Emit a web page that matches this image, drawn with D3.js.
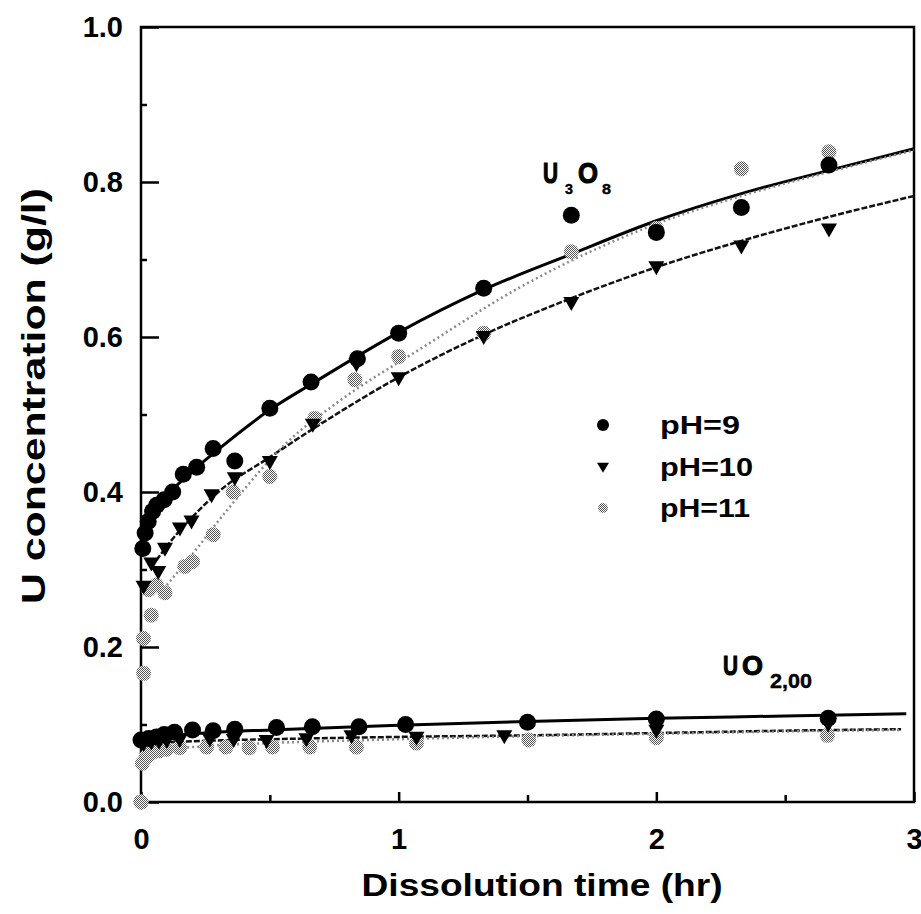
<!DOCTYPE html>
<html>
<head>
<meta charset="utf-8">
<script src="https://cdn.jsdelivr.net/npm/d3@7"></script>
<style>
  html, body { margin: 0; padding: 0; background: #fff; }
  svg { display: block; }
  text { font-family: "Liberation Sans", Arial, Helvetica, sans-serif; font-weight: bold; fill: #000; }
</style>
</head>
<body>
<div id="chart"></div>
<script>
// ---------------- DATA ----------------
const xTicks = [0, 1, 2, 3];
const xMinorTicks = [0.5, 1.5, 2.5];
const yTicks = [0.0, 0.2, 0.4, 0.6, 0.8, 1.0];
const yMinorTicks = [0.1, 0.3, 0.5, 0.7, 0.9];
const seriesNames = ["pH=9", "pH=10", "pH=11"];

// U3O8 measurements
const u3o8_pH9_t = [0.007, 0.016, 0.028, 0.045, 0.061, 0.09, 0.123, 0.164, 0.216, 0.28, 0.364, 0.5, 0.66, 0.84, 1.0, 1.33, 1.67, 2.0, 2.33, 2.67];
const u3o8_pH9_v = [0.327, 0.347, 0.362, 0.375, 0.383, 0.39, 0.40, 0.423, 0.432, 0.456, 0.44, 0.508, 0.542, 0.572, 0.605, 0.663, 0.757, 0.735, 0.767, 0.822];
const u3o8_pH10_t = [0.01, 0.04, 0.067, 0.093, 0.151, 0.196, 0.274, 0.364, 0.5, 0.667, 0.836, 1.0, 1.33, 1.67, 2.0, 2.33, 2.67];
const u3o8_pH10_v = [0.278, 0.308, 0.297, 0.327, 0.353, 0.362, 0.396, 0.418, 0.439, 0.487, 0.565, 0.547, 0.600, 0.644, 0.690, 0.717, 0.739];
const u3o8_pH11_t = [0, 0.01, 0.01, 0.03, 0.04, 0.06, 0.093, 0.17, 0.2, 0.28, 0.358, 0.5, 0.674, 0.83, 1.0, 1.33, 1.67, 2.0, 2.33, 2.67];
const u3o8_pH11_v = [0.0, 0.166, 0.211, 0.274, 0.241, 0.28, 0.27, 0.304, 0.31, 0.345, 0.40, 0.42, 0.495, 0.545, 0.575, 0.605, 0.71, 0.74, 0.817, 0.839];

// U3O8 fitted curves
const u3o8_fit9_t = [0, 0.02, 0.05, 0.1, 0.2, 0.3, 0.5, 0.67, 1.0, 1.33, 1.67, 2.0, 2.33, 2.67, 3.0];
const u3o8_fit9_v = [0.325, 0.352, 0.374, 0.395, 0.427, 0.455, 0.506, 0.541, 0.606, 0.661, 0.707, 0.75, 0.785, 0.815, 0.843];
const u3o8_fit10_t = [0.06, 0.1, 0.2, 0.3, 0.5, 0.67, 1.0, 1.33, 1.67, 2.0, 2.33, 2.67, 3.0];
const u3o8_fit10_v = [0.312, 0.33, 0.368, 0.4, 0.445, 0.482, 0.548, 0.603, 0.65, 0.69, 0.724, 0.755, 0.782];
const u3o8_fit11_t = [0.1, 0.2, 0.33, 0.58, 0.76, 1.1, 1.47, 1.88, 2.0, 2.33, 2.67, 3.0];
const u3o8_fit11_v = [0.28, 0.32, 0.375, 0.468, 0.515, 0.588, 0.664, 0.73, 0.746, 0.782, 0.813, 0.841];

// UO2.00 measurements
const uo2_pH9_t = [0, 0.03, 0.06, 0.09, 0.13, 0.2, 0.28, 0.364, 0.526, 0.665, 0.846, 1.027, 1.5, 2.0, 2.667];
const uo2_pH9_v = [0.08, 0.082, 0.084, 0.087, 0.09, 0.093, 0.092, 0.094, 0.096, 0.097, 0.097, 0.10, 0.103, 0.107, 0.108];
const uo2_pH10_t = [0.01, 0.04, 0.07, 0.1, 0.15, 0.267, 0.36, 0.487, 0.642, 0.817, 1.069, 1.41, 2.0, 2.667];
const uo2_pH10_v = [0.075, 0.077, 0.078, 0.079, 0.08, 0.081, 0.08, 0.079, 0.081, 0.085, 0.083, 0.085, 0.092, 0.1];
const uo2_pH11_t = [0, 0.005, 0.02, 0.04, 0.07, 0.1, 0.15, 0.255, 0.33, 0.42, 0.51, 0.655, 0.836, 1.069, 1.505, 2.0, 2.664];
const uo2_pH11_v = [0.0, 0.05, 0.058, 0.063, 0.066, 0.068, 0.07, 0.071, 0.071, 0.07, 0.071, 0.071, 0.071, 0.076, 0.08, 0.083, 0.086];

// UO2.00 fitted curves
const uo2_fit9_t = [0, 0.1, 0.25, 0.5, 1.0, 1.5, 2.0, 2.5, 2.97];
const uo2_fit9_v = [0.079, 0.085, 0.089, 0.093, 0.099, 0.104, 0.108, 0.111, 0.114];
const uo2_fit10_t = [0.05, 0.25, 0.5, 1.0, 1.5, 2.0, 2.5, 2.95];
const uo2_fit10_v = [0.076, 0.079, 0.081, 0.084, 0.086, 0.089, 0.092, 0.094];
const uo2_fit11_t = [0, 0.05, 0.1, 0.25, 0.5, 1.0, 1.5, 2.0, 2.5, 2.95];
const uo2_fit11_v = [0.05, 0.062, 0.067, 0.072, 0.076, 0.081, 0.085, 0.088, 0.091, 0.093];

// ---------------- CHART ----------------
const W = 921, H = 914;
const zip = (t, v) => t.map((d, i) => [d, v[i]]);

const svg = d3.select("#chart").append("svg").attr("width", W).attr("height", H);
svg.append("rect").attr("width", W).attr("height", H).attr("fill", "#fff");

const defs = svg.append("defs");
const pat = defs.append("pattern").attr("id", "stip").attr("patternUnits", "userSpaceOnUse")
  .attr("width", 2).attr("height", 2);
pat.append("rect").attr("width", 2).attr("height", 2).attr("fill", "#fff");
[[0, 0], [1, 1]].forEach(p => pat.append("rect").attr("x", p[0]).attr("y", p[1]).attr("width", 1).attr("height", 1).attr("fill", "#555"));

const x = d3.scaleLinear().domain([0, 3]).range([141, 914]);
const y = d3.scaleLinear().domain([0, 1]).range([802, 27]);

// axes
const axL = svg.append("g").attr("transform", `translate(${x(0)},0)`)
  .call(d3.axisLeft(y).tickValues(yTicks).tickSizeInner(-18).tickSizeOuter(0).tickPadding(18).tickFormat(d3.format(".1f")));
const axLm = svg.append("g").attr("transform", `translate(${x(0)},0)`)
  .call(d3.axisLeft(y).tickValues(yMinorTicks).tickSizeInner(-6).tickSizeOuter(0).tickFormat(""));
const axB = svg.append("g").attr("transform", `translate(0,${y(0)})`)
  .call(d3.axisBottom(x).tickValues(xTicks).tickSizeInner(-10).tickSizeOuter(0).tickPadding(26).tickFormat(d3.format("d")));
const axBm = svg.append("g").attr("transform", `translate(0,${y(0)})`)
  .call(d3.axisBottom(x).tickValues(xMinorTicks).tickSizeInner(-7).tickSizeOuter(0).tickFormat(""));
[axL, axLm, axB, axBm].forEach(g => {
  g.select(".domain").remove();
  g.selectAll(".tick line").attr("stroke", "#000").attr("stroke-width", 2.5);
  g.selectAll(".tick text").attr("font-size", 29).attr("font-family", null).attr("fill", "#000");
});

// frame
svg.append("rect").attr("x", x(0)).attr("y", y(1)).attr("width", x(3) - x(0)).attr("height", y(0) - y(1))
  .attr("fill", "none").attr("stroke", "#000").attr("stroke-width", 2.5);

// fitted lines
const line = d3.line().x(d => x(d[0])).y(d => y(d[1])).curve(d3.curveMonotoneX);
const lineStyles = [
  { stroke: "#000", width: 3, dash: null },
  { stroke: "#111", width: 2.5, dash: "6,2" },
  { stroke: "#8a8a8a", width: 2.5, dash: "2,3" }
];
const fits = [
  [zip(u3o8_fit9_t, u3o8_fit9_v), 0], [zip(u3o8_fit10_t, u3o8_fit10_v), 1], [zip(u3o8_fit11_t, u3o8_fit11_v), 2],
  [zip(uo2_fit9_t, uo2_fit9_v), 0], [zip(uo2_fit10_t, uo2_fit10_v), 1], [zip(uo2_fit11_t, uo2_fit11_v), 2]
];
fits.forEach(([pts, s]) => {
  const st = lineStyles[s];
  svg.append("path").datum(pts).attr("d", line).attr("fill", "none")
    .attr("stroke", st.stroke).attr("stroke-width", st.width)
    .attr("stroke-dasharray", st.dash);
});

// markers
const tri = (w, h) => `M${-w / 2},${-h * 0.42}L${w / 2},${-h * 0.42}L0,${h * 0.58}Z`;
function drawGrey(pts, r) {
  svg.append("g").selectAll("circle").data(pts).join("circle")
    .attr("cx", d => x(d[0])).attr("cy", d => y(d[1])).attr("r", r)
    .attr("fill", "url(#stip)");
}
function drawTri(pts, w, h) {
  svg.append("g").selectAll("path").data(pts).join("path")
    .attr("transform", d => `translate(${x(d[0])},${y(d[1])})`).attr("d", tri(w, h)).attr("fill", "#000");
}
function drawDot(pts, r) {
  svg.append("g").selectAll("circle").data(pts).join("circle")
    .attr("cx", d => x(d[0])).attr("cy", d => y(d[1])).attr("r", r).attr("fill", "#000");
}
drawGrey(zip(u3o8_pH11_t, u3o8_pH11_v), 7.5);
drawGrey(zip(uo2_pH11_t, uo2_pH11_v), 7.5);
drawTri(zip(u3o8_pH10_t, u3o8_pH10_v), 16, 14);
drawTri(zip(uo2_pH10_t, uo2_pH10_v), 16, 14);
drawDot(zip(u3o8_pH9_t, u3o8_pH9_v), 8.5);
drawDot(zip(uo2_pH9_t, uo2_pH9_v), 8.5);

// axis titles
svg.append("text").attr("x", 542).attr("y", 896).attr("text-anchor", "middle")
  .attr("font-size", 31).attr("textLength", 361).attr("lengthAdjust", "spacingAndGlyphs")
  .text("Dissolution time (hr)");
svg.append("text").attr("transform", "translate(45,396) rotate(-90)").attr("text-anchor", "middle")
  .attr("font-size", 34).attr("textLength", 416).attr("lengthAdjust", "spacingAndGlyphs")
  .text("U concentration (g/l)");

// curve labels
function label(parts) {
  parts.forEach(p => svg.append("text").attr("x", p[1]).attr("y", p[2]).attr("font-size", p[3])
    .attr("textLength", p[4]).attr("lengthAdjust", "spacingAndGlyphs")
    .attr("stroke", "#000").attr("stroke-width", p[5]).text(p[0]));
}
label([["U", 543, 183, 30, 15, 1.2], ["3", 565, 194, 15, 8, 0.4], ["O", 578, 183, 30, 20, 1.2], ["8", 602, 194, 15, 9, 0.4]]);
label([["U", 723, 675, 27, 15, 1.0], ["O", 742, 675, 27, 21, 1.0], ["2,00", 770, 688, 20, 42, 0.4]]);

// legend
const legY = [425, 467, 508];
const lg = svg.append("g");
lg.append("circle").attr("cx", 603).attr("cy", legY[0]).attr("r", 6).attr("fill", "#000");
lg.append("path").attr("transform", `translate(603,${legY[1]})`).attr("d", tri(12, 10)).attr("fill", "#000");
lg.append("circle").attr("cx", 603).attr("cy", legY[2]).attr("r", 5).attr("fill", "url(#stip)");
const legW = [80, 93, 90];
seriesNames.forEach((n, i) => lg.append("text").attr("x", 660).attr("y", legY[i]).attr("dy", "0.36em")
  .attr("font-size", 26).attr("textLength", legW[i]).attr("lengthAdjust", "spacingAndGlyphs").text(n));
</script>
</body>
</html>
